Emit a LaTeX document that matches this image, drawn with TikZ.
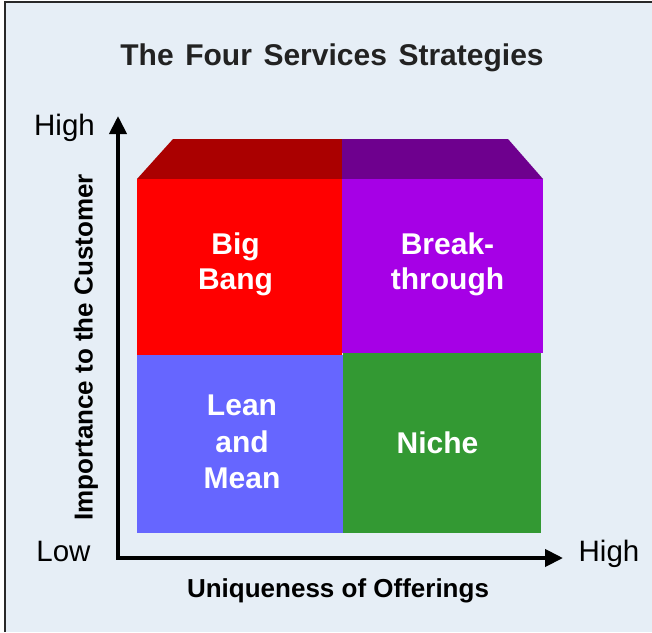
\documentclass[tikz,border=0pt]{standalone}
\usepackage{fontspec}
\setmainfont{Liberation Sans}
\usetikzlibrary{arrows.meta}
\definecolor{bgc}{RGB}{230,238,246}
\definecolor{framec}{RGB}{40,40,40}
\definecolor{qred}{RGB}{255,0,0}
\definecolor{qredd}{RGB}{170,0,0}
\definecolor{qpur}{RGB}{166,0,230}
\definecolor{qpurd}{RGB}{110,0,142}
\definecolor{qlav}{RGB}{102,102,255}
\definecolor{qgrn}{RGB}{51,153,51}
\definecolor{titlec}{RGB}{34,34,34}
\begin{document}
\begin{tikzpicture}[x=1pt,y=-1pt,
  quad/.style={inner sep=0pt, outer sep=0pt, anchor=north west},
  qtext/.style={inner sep=0pt, outer sep=0pt, text=white, align=center,
    font=\bfseries\fontsize{30}{35.5}\selectfont},
  axislabel/.style={font=\bfseries\fontsize{26}{30}\selectfont, text=black},
  endlabel/.style={font=\fontsize{29.5}{34}\selectfont, text=black, anchor=base, inner sep=0pt},
  axisline/.style={line width=4pt, black, {Triangle[width=17pt,length=18pt]}-{Triangle[width=17pt,length=18pt]}}
]
\useasboundingbox (0,0) rectangle (652,632);
\fill[bgc] (5,2) rectangle (652,632);
\draw[framec, line width=1.5pt] (5,632) -- (5,2) -- (652,2);

\node[font=\bfseries\fontsize{30}{36}\selectfont, text=titlec, anchor=base, inner sep=0pt] (title) at (332,65)
  {\spaceskip=11.6pt The Four Services Strategies};

% top bevel
\fill[qredd] (137,179) -- (173,139) -- (342,139) -- (342,179) -- cycle;
\fill[qpurd] (342,179) -- (342,139) -- (508,139) -- (543,179) -- cycle;

% quadrants
\node[quad, fill=qred, minimum width=205pt, minimum height=176pt] (bb) at (137,179) {};
\node[quad, fill=qpur, minimum width=201pt, minimum height=174pt] (bt) at (342,179) {};
\node[quad, fill=qlav, minimum width=206pt, minimum height=178pt] (lm) at (137,355) {};
\node[quad, fill=qgrn, minimum width=198pt, minimum height=180pt] (ni) at (343,353) {};

\node[qtext] (bbt) at (235.5,264.5) {Big\\Bang};
\node[qtext] (btt) at (447.5,264.5) {Break-\\through};
\node[qtext, font=\bfseries\fontsize{30}{36.8}\selectfont] (lmt) at (242,442) {Lean\\and\\Mean};
\node[qtext] (nit) at (437.5,443) {Niche};

% axes
\coordinate (origin) at (118,558);
\coordinate (ytip) at (118,116);
\coordinate (xtip) at (563,558);
\draw[axisline, line join=miter] (ytip) -- (origin) -- (xtip);

\node[endlabel] (yhigh) at (64.5,135) {High};
\node[endlabel] (low) at (63.5,561.5) {Low};
\node[endlabel] (xhigh) at (609,561) {High};

\node[axislabel, rotate=90] (ylab) at (86,347.5) {Importance to the Customer};
\node[axislabel] (xlab) at (338,591) {Uniqueness of Offerings};
\end{tikzpicture}
\end{document}
